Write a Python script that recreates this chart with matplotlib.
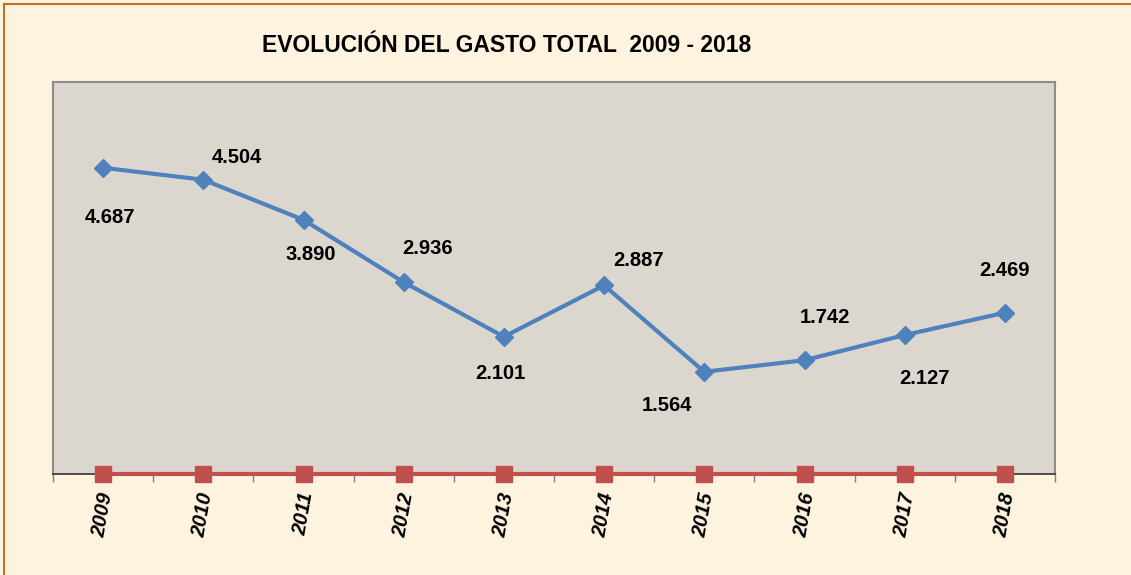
import matplotlib
matplotlib.use("Agg")
import matplotlib.pyplot as plt
import numpy as np

years = ["2009", "2010", "2011", "2012", "2013", "2014", "2015", "2016", "2017", "2018"]
gasto = [4.687, 4.504, 3.890, 2.936, 2.101, 2.887, 1.564, 1.742, 2.127, 2.469]
labels = ["4.687", "4.504", "3.890", "2.936", "2.101", "2.887", "1.564", "1.742", "2.127", "2.469"]
base = [0, 0, 0, 0, 0, 0, 0, 0, 0, 0]
# label offsets in pixels (dx, dy) relative to each marker
label_offsets = [(7, -50), (34, 22), (7, -35), (24, 34), (-4, -37),
                 (34, 25), (-37, -34), (20, 43), (20, -43), (0, 42)]

plt.rcParams['font.family'] = ['Liberation Sans', 'DejaVu Sans']

W, H = 1131, 575
fig = plt.figure(figsize=(W / 100, H / 100), dpi=100)
fig.patch.set_facecolor('#FDF3DE')

# figure border (top and left)
fig.add_artist(plt.Line2D([4 / W, 4 / W], [0, 1 - 4 / H], transform=fig.transFigure,
                          color='#B8732F', lw=1.5))
fig.add_artist(plt.Line2D([4 / W, 1], [1 - 4 / H, 1 - 4 / H], transform=fig.transFigure,
                          color='#B8732F', lw=1.5))

ax = fig.add_axes([53 / W, (H - 474) / H, (1055 - 53) / W, (474 - 82) / H])
ax.set_facecolor('#DCD7CE')

x = np.arange(len(years))
ax.plot(x, base, color='#C0504D', lw=3, marker='s', markersize=11,
        clip_on=False, zorder=5)
ax.plot(x, gasto, color='#4F81BD', lw=3, marker='D', markersize=9.5,
        clip_on=False, zorder=6)

for xi, yi, lab, (dx, dy) in zip(x, gasto, labels, label_offsets):
    ax.annotate(lab, (xi, yi), xytext=(dx, dy), textcoords='offset pixels',
                ha='center', va='center', fontsize=14.5, fontweight='bold', color='black')

ax.set_xlim(-0.5, len(years) - 0.5)
ax.set_ylim(0, 6)
ax.set_yticks([])
ax.set_xticks(x)
ax.set_xticklabels(years, rotation=80, fontsize=14.5, fontweight='bold', fontstyle='italic',
                   ha='center', va='top')
ax.tick_params(axis='x', which='major', length=0, pad=12)
ax.set_xticks(np.arange(-0.5, len(years), 1.0), minor=True)
ax.tick_params(axis='x', which='minor', length=6, color='#808080', width=1)

for s in ['top', 'right', 'left']:
    ax.spines[s].set_color('#8C8C8C')
    ax.spines[s].set_linewidth(1.5)
ax.spines['bottom'].set_color('#333333')
ax.spines['bottom'].set_linewidth(1.2)

fig.text(507 / W, 1 - 45 / H, "EVOLUCIÓN DEL GASTO TOTAL  2009 - 2018", ha='center', va='center',
         fontsize=16.5, fontweight='bold', color='black')

fig.savefig('out.png', dpi=100, facecolor=fig.get_facecolor())
